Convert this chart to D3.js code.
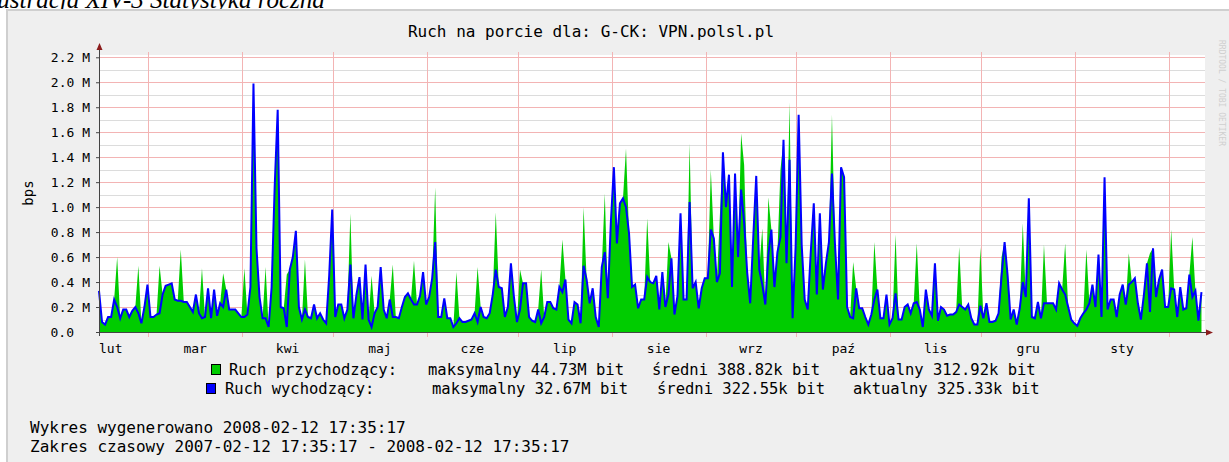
<!DOCTYPE html>
<html>
<head>
<meta charset="utf-8">
<script src="https://cdn.jsdelivr.net/npm/d3@7"></script>
<style>
  body { margin: 0; background: #fff; }
  text { font-family: "DejaVu Sans Mono", monospace; fill: #000; }
</style>
</head>
<body>
<svg id="chart" width="1229" height="462"></svg>
<script>
// time range of the graph
const start = new Date(2007, 1, 12, 17, 35, 17)
const end = new Date(2008, 1, 12, 17, 35, 17)

const monthNames = ['lut', 'mar', 'kwi', 'maj', 'cze', 'lip', 'sie', 'wrz', 'paź', 'lis', 'gru', 'sty']
const yTicks = [0, 0.2, 0.4, 0.6, 0.8, 1.0, 1.2, 1.4, 1.6, 1.8, 2.0, 2.2]   // M bit/s

// daily averages in M bit/s, one value per day from 2007-02-12
const outgoing = [
  .33,.08,.06,.12,.12,.26,.2,.11,.18,.18,.12,.17,.2,.15,.07,.2,.38,.12,.12,.14,
  .15,.3,.37,.38,.39,.26,.25,.25,.24,.24,.2,.16,.3,.15,.11,.12,.35,.11,.34,.13,
  .23,.2,.34,.18,.18,.18,.15,.12,.12,.14,.36,1.99,.67,.28,.11,.11,.04,.36,1.16,1.78,
  .2,.19,.04,.5,.6,.81,.2,.1,.18,.12,.11,.22,.11,.15,.1,.07,.45,.98,.12,.22,
  .22,.11,.18,.54,.11,.3,.44,.1,.54,.1,.04,.15,.2,.52,.18,.11,.26,.12,.12,.11,
  .2,.28,.31,.26,.22,.22,.29,.48,.22,.28,.43,.72,.12,.12,.27,.11,.11,.04,.07,.11,
  .08,.08,.09,.1,.15,.08,.2,.12,.11,.15,.3,.5,.36,.35,.12,.2,.55,.28,.08,.18,
  .39,.39,.12,.09,.08,.18,.07,.12,.24,.24,.19,.18,.36,.32,.42,.1,.07,.24,.22,.07,
  .53,.42,.23,.35,.12,.04,.52,.64,.27,.88,1.32,.71,1.03,1.07,1.0,.79,.36,.38,.19,.26,
  .26,.44,.4,.39,.45,.18,.48,.2,.3,.59,.14,.29,.95,.26,.26,1.04,.35,.4,.19,.35,
  .43,.43,.82,.75,.4,.47,1.44,1.0,1.26,.36,1.27,.6,1.14,.88,.48,.23,.75,1.25,.5,.38,
  .22,.62,.82,.36,.64,.76,1.54,.55,1.38,.11,.68,1.74,.7,.26,.18,.64,1.03,.3,.95,.34,
  .55,.72,1.27,.7,.26,1.32,1.24,.2,.12,.11,.35,.19,.19,.12,.06,.14,.26,.34,.11,.11,
  .3,.06,.11,.31,.1,.1,.2,.22,.15,.23,.24,.18,.04,.34,.18,.13,.55,.09,.2,.18,
  .13,.14,.14,.16,.22,.2,.18,.22,.11,.06,.06,.21,.11,.23,.08,.08,.09,.15,.45,.72,
  .45,.1,.18,.06,.19,.4,.28,1.07,.12,.11,.24,.11,.23,.23,.23,.23,.18,.39,.34,.3,
  .2,.1,.07,.05,.11,.15,.18,.23,.38,.2,.62,.12,1.24,.18,.26,.26,.12,.3,.38,.22,
  .38,.4,.43,.23,.1,.3,.55,.16,.67,.28,.42,.5,.2,.2,.35,.34,.12,.36,.18,.19,
  .46,.28,.33,.09,.32
]

const incoming = [
  .33,.08,.06,.12,.12,.26,.6,.11,.18,.18,.12,.17,.2,.53,.07,.2,.38,.12,.12,.14,
  .53,.3,.37,.38,.39,.26,.25,.66,.24,.24,.2,.16,.3,.15,.51,.12,.35,.11,.34,.13,
  .23,.47,.34,.18,.18,.18,.15,.12,.51,.14,.36,1.99,.67,.28,.11,.52,.04,.36,1.16,1.78,
  .2,.19,.46,.5,.6,.81,.2,.1,.58,.12,.11,.22,.11,.15,.1,.07,.48,.98,.12,.22,
  .22,.11,.18,.95,.11,.3,.44,.1,.54,.1,.45,.15,.2,.52,.18,.11,.26,.54,.12,.11,
  .2,.28,.31,.26,.57,.22,.29,.48,.22,.28,.43,1.16,.12,.12,.27,.11,.11,.04,.48,.11,
  .08,.08,.09,.1,.15,.52,.2,.12,.11,.15,.3,.96,.36,.35,.12,.2,.55,.28,.08,.5,
  .39,.39,.12,.09,.08,.18,.5,.12,.24,.24,.19,.18,.36,.74,.42,.1,.07,.24,.22,.07,
  1.0,.42,.23,.35,.12,.04,.52,1.11,.27,.88,1.32,.71,1.03,1.07,1.47,.79,.36,.38,.19,.26,
  .26,.91,.4,.39,.45,.18,.48,.2,.72,.59,.14,.29,.95,.26,.26,1.51,.35,.4,.19,.35,
  .43,.43,1.3,.75,.4,.94,1.44,1.0,1.26,.36,1.27,.6,1.59,1.34,.48,.23,.75,1.25,.5,.83,
  .22,1.08,.82,.36,.64,1.3,1.54,.55,1.84,.11,.68,1.74,.7,.26,.18,.64,1.03,.3,.95,.34,
  .55,.72,1.74,.7,.26,1.32,1.24,.2,.12,.56,.35,.19,.19,.12,.06,.14,.72,.34,.11,.11,
  .3,.06,.11,.78,.1,.1,.2,.22,.15,.23,.71,.18,.04,.34,.18,.13,.55,.09,.2,.18,
  .13,.14,.14,.16,.68,.2,.18,.22,.11,.06,.06,.68,.11,.23,.08,.08,.09,.15,.6,.72,
  .45,.1,.18,.06,.19,.87,.28,1.07,.12,.11,.24,.11,.7,.23,.23,.23,.18,.39,.34,.71,
  .2,.1,.07,.05,.11,.15,.66,.23,.38,.2,.62,.12,1.24,.18,.26,.26,.12,.3,.38,.22,
  .63,.4,.43,.23,.1,.3,.55,.63,.67,.28,.42,.5,.2,.2,.82,.34,.12,.36,.18,.19,
  .46,.76,.33,.09,.32
]

const legendRows = [
  {name: 'Ruch przychodzący:', max: 'maksymalny 44.73M bit', avg: 'średni 388.82k bit', cur: 'aktualny 312.92k bit', color: '#00cc00'},
  {name: 'Ruch wychodzący:', max: 'maksymalny 32.67M bit', avg: 'średni 322.55k bit', cur: 'aktualny 325.33k bit', color: '#0000ff'}
]

const svg = d3.select('#chart')
const dayMs = 864e5
const data = outgoing.map((v, i) => ({t: new Date(+start + i * dayMs), out: v, inc: incoming[i]}))

const x = d3.scaleTime().domain([start, end]).range([99, 1204.5])
const y = d3.scaleLinear().domain([0, 2.2]).range([332, 57.3])

// page bits: caption of the document above, panel
svg.append('text')
  .attr('x', -18).attr('y', 8)
  .style('font-family', '"Liberation Serif", serif')
  .style('font-style', 'italic')
  .style('font-size', '25px')
  .text('Ilustracja XIV-3 Statystyka roczna')

svg.append('rect')
  .attr('x', 7).attr('y', 10).attr('width', 1240).attr('height', 470)
  .attr('fill', '#efefef').attr('stroke', '#cfcfcf').attr('stroke-width', 2)

// watermark on the right edge
svg.append('text')
  .attr('transform', 'translate(1219,40) rotate(90)')
  .style('font-size', '8px').style('fill', '#d0d0d0')
  .text('RRDTOOL / TOBI OETIKER')

// canvas
svg.append('rect')
  .attr('x', 100).attr('y', 55).attr('width', 1105).attr('height', 277)
  .attr('fill', '#fff')

// minor grid
const minor = d3.range(1, 22).map(d => d / 10).filter(d => Math.round(d * 10) % 2 == 1)
svg.append('g').selectAll('line').data(minor).join('line')
  .attr('x1', 100).attr('x2', 1205)
  .attr('y1', d => Math.round(y(d)) + 0.5).attr('y2', d => Math.round(y(d)) + 0.5)
  .attr('stroke', '#dcdcdc')

// major grid
svg.append('g').selectAll('line').data(yTicks.slice(1)).join('line')
  .attr('x1', 100).attr('x2', 1205)
  .attr('y1', d => Math.round(y(d)) + 0.5).attr('y2', d => Math.round(y(d)) + 0.5)
  .attr('stroke', '#f3b4b4')

const monthStarts = d3.timeMonth.range(d3.timeMonth.ceil(start), end)
svg.append('g').selectAll('line').data(monthStarts).join('line')
  .attr('x1', d => Math.round(x(d)) + 0.5).attr('x2', d => Math.round(x(d)) + 0.5)
  .attr('y1', 52).attr('y2', 337)
  .attr('stroke', '#f3b4b4')

// data
svg.append('path')
  .datum(data)
  .attr('fill', '#00cc00')
  .attr('d', d3.area()
    .x(d => x(d.t)).y0(y(0)).y1(d => y(d.inc)))

svg.append('path')
  .datum(data)
  .attr('fill', 'none')
  .attr('stroke', '#0000ff')
  .attr('stroke-width', 2)
  .attr('d', d3.line()
    .x(d => x(d.t)).y(d => y(d.out)))

// axes
const yAxis = svg.append('g')
  .attr('transform', 'translate(100,0)')
  .call(d3.axisLeft(y).tickValues(yTicks).tickSize(4).tickPadding(6)
    .tickFormat(d => d == 0 ? '0.0' : d3.format('.1f')(d) + ' M'))
yAxis.select('.domain').remove()
yAxis.selectAll('line').attr('stroke', '#444')
yAxis.selectAll('text').style('font-size', '13px').style('font-family', '"DejaVu Sans Mono", monospace')
  .attr('dx', d => d == 0 ? -16 : 0)

svg.append('line').attr('x1', 99.5).attr('x2', 99.5).attr('y1', 336).attr('y2', 48)
  .attr('stroke', '#444')
svg.append('line').attr('x1', 96).attr('x2', 1208).attr('y1', 332.5).attr('y2', 332.5)
  .attr('stroke', '#444')
svg.append('path').attr('d', 'M96.5,50 L99.5,43 L102.5,50 Z').attr('fill', '#8b1c1c')
svg.append('path').attr('d', 'M1206,329.5 L1213,332.5 L1206,335.5 Z').attr('fill', '#8b1c1c')

// month labels in the middle of each month, only those inside the range
const labelMonths = d3.timeMonth.range(d3.timeMonth.floor(start), end)
  .filter(d => new Date((+d + +d3.timeMonth.offset(d, 1)) / 2) < end)
svg.append('g').selectAll('text').data(labelMonths).join('text')
  .attr('y', 353)
  .attr('text-anchor', 'middle')
  .style('font-size', '13px')
  .text(d => monthNames[(d.getMonth() + 11) % 12])
  .attr('x', function(d) {
    const mid = x(new Date((+d + +d3.timeMonth.offset(d, 1)) / 2))
    const w = this.getComputedTextLength()
    return Math.max(mid, 99 + w / 2)
  })

// title and vertical label
svg.append('text')
  .attr('x', 591).attr('y', 37).attr('text-anchor', 'middle')
  .style('font-size', '16px')
  .text('Ruch na porcie dla: G-CK: VPN.polsl.pl')

svg.append('text')
  .attr('transform', 'translate(33,193) rotate(-90)')
  .attr('text-anchor', 'middle')
  .style('font-size', '14px')
  .text('bps')

// legend
const legendX = [[211, 229, 428, 652, 849], [206, 225, 432, 657, 853]]
legendRows.forEach((r, i) => {
  const yy = 375 + i * 19
  const lx = legendX[i]
  svg.append('rect').attr('x', lx[0] + 0.5).attr('y', yy - 10.5).attr('width', 9).attr('height', 10)
    .attr('fill', r.color).attr('stroke', '#000')
  ;[r.name, r.max, r.avg, r.cur].forEach((s, j) => {
    svg.append('text').attr('x', lx[j + 1]).attr('y', yy).style('font-size', '15.5px').text(s)
  })
})

svg.append('text').attr('x', 30).attr('y', 433).style('font-size', '16px')
  .text('Wykres wygenerowano 2008-02-12 17:35:17')
svg.append('text').attr('x', 30).attr('y', 452).style('font-size', '16px')
  .text('Zakres czasowy 2007-02-12 17:35:17 - 2008-02-12 17:35:17')
</script>
</body>
</html>
